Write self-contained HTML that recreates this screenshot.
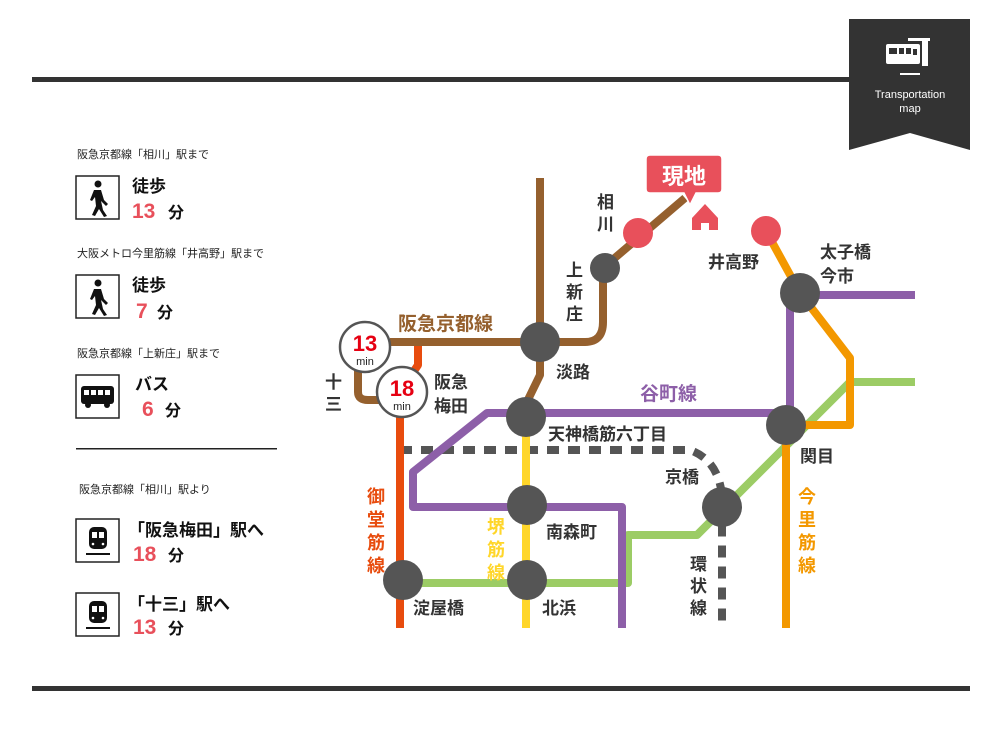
<!DOCTYPE html>
<html><head><meta charset="utf-8"><style>
html,body{margin:0;padding:0;background:#fff;}
body{width:1000px;height:750px;position:relative;overflow:hidden;font-family:"Liberation Sans","Noto Sans CJK JP",sans-serif;}
svg{position:absolute;left:0;top:0;}
</style></head><body>
<svg width="1000" height="750" viewBox="0 0 1000 750" font-family="Liberation Sans, Noto Sans CJK JP, sans-serif">
<!-- rules -->
<rect x="32" y="77" width="820" height="5" fill="#333"/>
<rect x="32" y="686" width="938" height="5" fill="#333"/>
<!-- badge -->
<path d="M849 19 H970 V150 L910 133 L849 150 Z" fill="#333"/>
<g fill="#fff">
<rect x="886" y="44" width="34" height="20" rx="2"/>
<rect x="908" y="38" width="22" height="3"/>
<rect x="922" y="40" width="6" height="26"/>
<rect x="900" y="73" width="20" height="2"/>
</g>
<g fill="#333"><rect x="889" y="48" width="8" height="6"/><rect x="899" y="48" width="5" height="6"/><rect x="906" y="48" width="5" height="6"/><rect x="913" y="49" width="4" height="6"/></g>
<text x="910" y="98" font-size="11" fill="#fff" text-anchor="middle">Transportation</text>
<text x="910" y="112" font-size="11" fill="#fff" text-anchor="middle">map</text>

<!-- left panel -->
<g font-size="11" fill="#222">
<text x="77" y="158">阪急京都線「相川」駅まで</text>
<text x="77" y="257">大阪メトロ今里筋線「井高野」駅まで</text>
<text x="77" y="357">阪急京都線「上新庄」駅まで</text>
<text x="79" y="493">阪急京都線「相川」駅より</text>
</g>
<g fill="none" stroke="#222" stroke-width="1.5">
<rect x="76" y="176" width="43" height="43"/>
<rect x="76" y="275" width="43" height="43"/>
<rect x="76" y="375" width="43" height="43"/>
<rect x="76" y="519" width="43" height="43"/>
<rect x="76" y="593" width="43" height="43"/>
</g>
<!-- walk icons -->
<g fill="#111">
<circle cx="98" cy="184" r="3.5"/><path d="M94 190 L101 190 L104 200 L108 204 L106 206 L101 201 L103 210 L107 216 L104 217 L99 209 L95 216 L92 215 L96 206 L95 197 L92 201 L90 200 Z"/>
<circle cx="98" cy="283" r="3.5"/><path d="M94 289 L101 289 L104 299 L108 303 L106 305 L101 300 L103 309 L107 315 L104 316 L99 308 L95 315 L92 314 L96 305 L95 296 L92 300 L90 299 Z"/>
<!-- bus -->
<rect x="81" y="386" width="33" height="18" rx="3"/>
<circle cx="88" cy="405" r="3"/><circle cx="107" cy="405" r="3"/>
<!-- trains -->
<rect x="89" y="527" width="18" height="22" rx="5"/><rect x="86" y="553" width="24" height="2"/>
<rect x="89" y="601" width="18" height="22" rx="5"/><rect x="86" y="627" width="24" height="2"/>
</g>
<g fill="#fff">
<rect x="84" y="390" width="5" height="5"/><rect x="91" y="390" width="5" height="5"/><rect x="98" y="390" width="5" height="5"/><rect x="105" y="390" width="5" height="5"/>
<rect x="92" y="532" width="5" height="6"/><rect x="99" y="532" width="5" height="6"/><circle cx="93" cy="544" r="1.3"/><circle cx="103" cy="544" r="1.3"/>
<rect x="92" y="606" width="5" height="6"/><rect x="99" y="606" width="5" height="6"/><circle cx="93" cy="618" r="1.3"/><circle cx="103" cy="618" r="1.3"/>
</g>
<g font-weight="bold" fill="#111" font-size="17">
<text x="132" y="192">徒歩</text>
<text x="132" y="291">徒歩</text>
<text x="135" y="390">バス</text>
<text x="128" y="536">「阪急梅田」駅へ</text>
<text x="128" y="610">「十三」駅へ</text>
</g>
<g font-weight="bold" font-size="21" fill="#e8505b">
<text x="132" y="218">13</text>
<text x="136" y="318">7</text>
<text x="142" y="416">6</text>
<text x="133" y="561">18</text>
<text x="133" y="634">13</text>
</g>
<g font-weight="bold" font-size="16" fill="#111">
<text x="168" y="218">分</text>
<text x="157" y="318">分</text>
<text x="165" y="416">分</text>
<text x="168" y="561">分</text>
<text x="168" y="634">分</text>
</g>
<rect x="76" y="448" width="201" height="1.5" fill="#222"/>

<!-- lines -->
<g fill="none" stroke-width="8" stroke-linejoin="round">
<!-- green -->
<path d="M403 583 H628 V535 H697 L850 382 H915" stroke="#9ccc65"/>
<!-- dashed loop -->
<path d="M400 450 H690 Q718 460 722 495 V628" stroke="#555" stroke-dasharray="12 9"/>
<!-- yellow -->
<path d="M526 417 V628" stroke="#ffd62a"/>
<!-- purple -->
<path d="M790 413 H487 L413 472 V507 H622 V628" stroke="#8d5fa8"/>
<path d="M790 413 V295 H915" stroke="#8d5fa8"/>
<!-- orange -->
<path d="M766 231 L800 293 L850 358 V425 H786 V628" stroke="#f39800"/>
<!-- red midosuji -->
<path d="M400 410 V628" stroke="#e84c0e"/>
<path d="M418 343 V365 L408 380" stroke="#e84c0e"/>
<!-- brown -->
<path d="M540 178 V342 M390 342 H585 Q603 342 603 322 V268 L685 198 M540 342 V375 L522 412" stroke="#95602e"/>
<path d="M358 365 V392 Q358 400 368 400 H382" stroke="#95602e"/>
</g>

<!-- nodes -->
<g fill="#555">
<circle cx="540" cy="342" r="20"/>
<circle cx="605" cy="268" r="15"/>
<circle cx="526" cy="417" r="20"/>
<circle cx="786" cy="425" r="20"/>
<circle cx="800" cy="293" r="20"/>
<circle cx="527" cy="505" r="20"/>
<circle cx="722" cy="507" r="20"/>
<circle cx="403" cy="580" r="20"/>
<circle cx="527" cy="580" r="20"/>
</g>
<circle cx="638" cy="233" r="15" fill="#e8505b"/>
<circle cx="766" cy="231" r="15" fill="#e8505b"/>

<!-- min circles -->
<g stroke="#555" stroke-width="2.5" fill="#fff">
<circle cx="365" cy="347" r="25"/>
<circle cx="402" cy="392" r="25"/>
</g>
<g font-weight="bold" font-size="22" fill="#e60012" text-anchor="middle">
<text x="365" y="351">13</text><text x="402" y="396">18</text>
</g>
<g font-size="11" fill="#222" text-anchor="middle">
<text x="365" y="365">min</text><text x="402" y="410">min</text>
</g>

<!-- 現地 callout -->
<path d="M650 155 H718 Q722 155 722 159 V189 Q722 193 718 193 H696 L690 205 L684 193 H650 Q646 193 646 189 V159 Q646 155 650 155 Z" fill="#e8505b" stroke="#fff" stroke-width="1.5"/>
<text x="684" y="184" font-size="22" font-weight="bold" fill="#fff" text-anchor="middle">現地</text>
<path d="M692 218 L705 204 L718 218 V230 H709 V223 H701 V230 H692 Z" fill="#e8505b"/>

<!-- station labels -->
<g font-weight="bold" font-size="17" fill="#333">
<text x="597" y="208">相</text><text x="597" y="230">川</text>
<text x="566" y="276">上</text><text x="566" y="298">新</text><text x="566" y="320">庄</text>
<text x="556" y="378">淡路</text>
<text x="325" y="388">十</text><text x="325" y="410">三</text>
<text x="434" y="388">阪急</text><text x="434" y="412">梅田</text>
<text x="548" y="440">天神橋筋六丁目</text>
<text x="708" y="268">井高野</text>
<text x="820" y="258">太子橋</text><text x="820" y="282">今市</text>
<text x="800" y="462">関目</text>
<text x="665" y="483">京橋</text>
<text x="546" y="538">南森町</text>
<text x="413" y="614">淀屋橋</text>
<text x="542" y="614">北浜</text>
<text x="690" y="570">環</text><text x="690" y="592">状</text><text x="690" y="614">線</text>
</g>
<g font-weight="bold" font-size="19">
<text x="398" y="330" fill="#95602e">阪急京都線</text>
<text x="640" y="400" fill="#8d5fa8">谷町線</text>
</g>
<g font-weight="bold" font-size="18" fill="#e84c0e">
<text x="367" y="503">御</text><text x="367" y="526">堂</text><text x="367" y="549">筋</text><text x="367" y="572">線</text>
</g>
<g font-weight="bold" font-size="18" fill="#ffd62a">
<text x="487" y="533">堺</text><text x="487" y="556">筋</text><text x="487" y="579">線</text>
</g>
<g font-weight="bold" font-size="18" fill="#f39800">
<text x="798" y="503">今</text><text x="798" y="526">里</text><text x="798" y="549">筋</text><text x="798" y="572">線</text>
</g>
</svg>
</body></html>
